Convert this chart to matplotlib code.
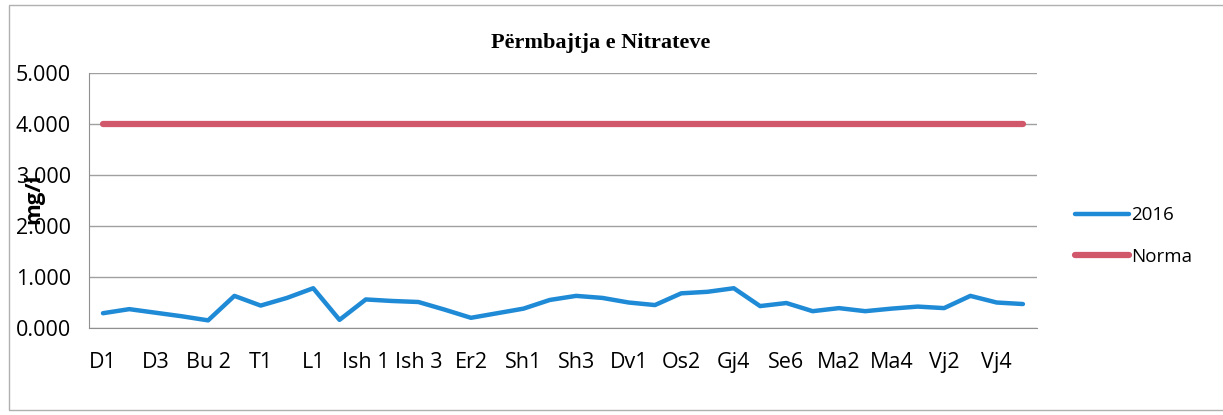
import matplotlib.pyplot as plt
from matplotlib.patches import Rectangle

# Kategoritë (stacionet) - vetëm çdo e dyta shfaqet në bosht
stacionet = ['D1', 'D2', 'D3', 'D4', 'Bu 2', 'Bu 3', 'T1', 'T2', 'L1', 'L2',
             'Ish 1', 'Ish 2', 'Ish 3', 'Er1', 'Er2', 'Er3', 'Sh1', 'Sh2',
             'Sh3', 'Sh4', 'Dv1', 'Os1', 'Os2', 'Gj3', 'Gj4', 'Se5', 'Se6',
             'Ma1', 'Ma2', 'Ma3', 'Ma4', 'Vj1', 'Vj2', 'Vj3', 'Vj4', 'Vj5']

# Vlerat e nitrateve 2016 (mg/l)
v2016 = [0.29, 0.37, 0.30, 0.23, 0.15, 0.63, 0.44, 0.59, 0.78, 0.16,
         0.56, 0.53, 0.51, 0.36, 0.20, 0.29, 0.38, 0.55, 0.63, 0.59,
         0.50, 0.45, 0.68, 0.71, 0.78, 0.43, 0.49, 0.33, 0.39, 0.33,
         0.38, 0.42, 0.39, 0.63, 0.50, 0.47]

# Norma
norma = [4.0] * len(stacionet)

yticks = [0, 1, 2, 3, 4, 5]
ytick_labels = ['0.000', '1.000', '2.000', '3.000', '4.000', '5.000']

fig = plt.figure(figsize=(12.23, 4.15), dpi=100)
ax = fig.add_axes([0.0728, 0.2096, 0.775, 0.6146])

x = list(range(len(stacionet)))
ax.plot(x, v2016, color='#1f8ad6', linewidth=3.2, label='2016', solid_capstyle='round')
ax.plot(x, norma, color='#d1576b', linewidth=4.5, label='Norma', solid_capstyle='round')

ax.set_xlim(-0.53, len(stacionet) - 0.47)
ax.set_ylim(0, 5)
ax.set_yticks(yticks)
ax.set_yticklabels(ytick_labels, fontsize=15.5, family='Open Sans')
ax.set_xticks(x[::2])
ax.set_xticklabels(stacionet[::2], fontsize=15.5, family='Open Sans')
ax.tick_params(length=0, pad=13, axis='y')
ax.tick_params(length=0, pad=17, axis='x')

ax.grid(axis='y', color='#a0a0a0', linewidth=1)
ax.set_axisbelow(True)
for s in ['top', 'right']:
    ax.spines[s].set_visible(False)
ax.spines['left'].set_color('#909090')
ax.spines['bottom'].set_color('#909090')

ax.set_title('Përmbajtja e Nitrateve', family='Liberation Serif', fontweight='bold',
             fontsize=16, pad=18, x=0.54)
fig.text(0.028, 0.52, 'mg/l', rotation=90, fontsize=16, fontweight='bold',
         family='Open Sans', ha='center', va='center')

ax.legend(loc='center left', bbox_to_anchor=(1.022, 0.36), frameon=False,
          prop={'family': 'Open Sans', 'size': 13.5},
          handlelength=2.9, handletextpad=0.1, labelspacing=1.25)

# kuadri i grafikut
fig.patches.append(Rectangle((0.007, 0.012), 1.2, 0.975, transform=fig.transFigure,
                             fill=False, edgecolor='#b0b0b0', linewidth=1))

fig.savefig('out.png', dpi=100)
